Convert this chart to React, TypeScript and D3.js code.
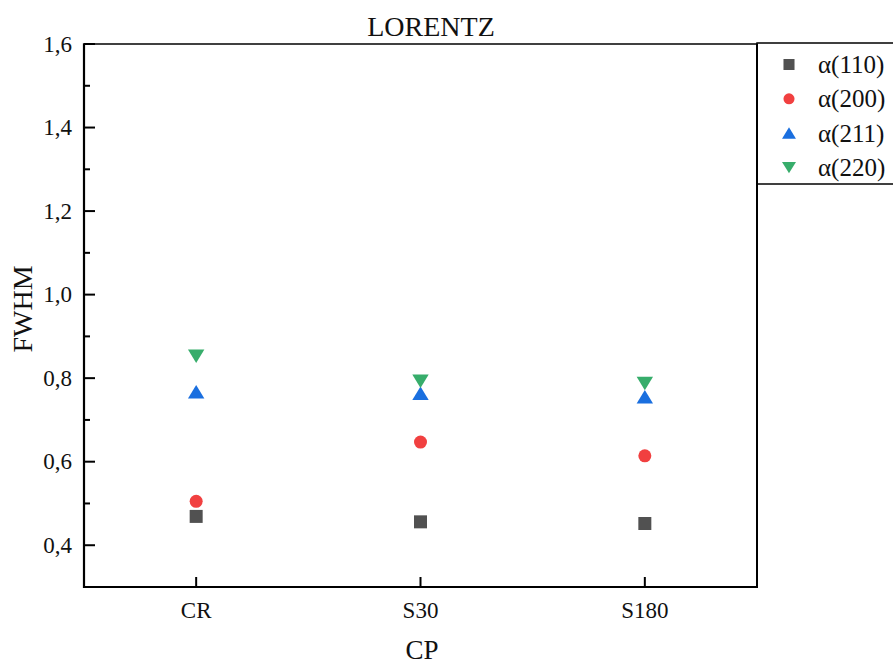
import React from "react";
import * as d3 from "d3";

const categories = ["CR", "S30", "S180"];
const seriesNames = ["α(110)", "α(200)", "α(211)", "α(220)"];
const a110 = [0.469, 0.456, 0.452];
const a200 = [0.505, 0.647, 0.614];
const a211 = [0.767, 0.763, 0.755];
const a220 = [0.853, 0.793, 0.788];
const yTicks = [0.4, 0.6, 0.8, 1.0, 1.2, 1.4, 1.6];
const yMinor = [0.5, 0.7, 0.9, 1.1, 1.3, 1.5];
const colors = ["#515151", "#F14040", "#1A6FDF", "#37AD6B"];
const shapes = ["square", "circle", "up", "down"];

const W = 893, H = 664;
const L = 84, R = 757, T = 44, B = 587;
const FONT = "'Liberation Serif', 'Times New Roman', serif";

function markerPath(shape: string) {
  const p = d3.path();
  if (shape === "square") {
    p.rect(-6.5, -6.5, 13, 13);
  } else if (shape === "circle") {
    p.arc(0, 0, 6.5, 0, Math.PI * 2);
  } else if (shape === "up") {
    p.moveTo(0, -7); p.lineTo(8.2, 6.5); p.lineTo(-8.2, 6.5); p.closePath();
  } else {
    p.moveTo(0, 7); p.lineTo(8.2, -6.5); p.lineTo(-8.2, -6.5); p.closePath();
  }
  return p.toString();
}

export default function App() {
  const x = d3.scaleLinear().domain([0.5, 3.5]).range([L, R]);
  const y = d3.scaleLinear().domain([0.3, 1.6]).range([B, T]);
  const series = [a110, a200, a211, a220];
  const fmt = (v: number) => v.toFixed(1).replace(".", ",");

  return (
    <div style={{ position: "absolute", left: 0, top: 0 }}>
      <svg width={W} height={H} style={{ display: "block", background: "#fff" }}>
        {/* title */}
        <text x={431} y={26} textAnchor="middle" dominantBaseline="central" fontFamily={FONT} fontSize={28} fill="#111">LORENTZ</text>

        {/* y ticks */}
        {yTicks.map((t) => (
          <g key={"y" + t}>
            <line x1={L} x2={L + 11} y1={y(t)} y2={y(t)} stroke="#000" strokeWidth={2} />
            <text x={72} y={y(t)} textAnchor="end" dominantBaseline="central" fontFamily={FONT} fontSize={23} fill="#111">{fmt(t)}</text>
          </g>
        ))}
        {yMinor.map((t) => (
          <line key={"m" + t} x1={L} x2={L + 6} y1={y(t)} y2={y(t)} stroke="#000" strokeWidth={2} />
        ))}
        {/* x ticks */}
        {categories.map((c, i) => (
          <g key={c}>
            <line x1={x(i + 1)} x2={x(i + 1)} y1={B} y2={B - 10} stroke="#000" strokeWidth={2} />
            <text x={x(i + 1)} y={610} textAnchor="middle" dominantBaseline="central" fontFamily={FONT} fontSize={23} fill="#111">{c}</text>
          </g>
        ))}

        {/* frame */}
        <line x1={L} x2={R} y1={T} y2={T} stroke="#000" strokeWidth={1.6} />
        <line x1={R} x2={R} y1={T} y2={B} stroke="#000" strokeWidth={2} />
        <line x1={L} x2={L} y1={T - 0.8} y2={B + 1} stroke="#000" strokeWidth={2.2} />
        <line x1={L - 1} x2={R + 1} y1={B} y2={B} stroke="#000" strokeWidth={2.2} />

        {/* axis labels */}
        <text x={422} y={650} textAnchor="middle" dominantBaseline="central" fontFamily={FONT} fontSize={27} fill="#111">CP</text>
        <text transform={`translate(22,${309}) rotate(-90)`} textAnchor="middle" dominantBaseline="central" fontFamily={FONT} fontSize={28} fill="#111">FWHM</text>

        {/* points */}
        {series.map((vals, si) =>
          vals.map((v, i) => (
            <path key={si + "-" + i} d={markerPath(shapes[si])} transform={`translate(${x(i + 1)},${y(v)})`} fill={colors[si]} />
          ))
        )}

        {/* legend */}
        <rect x={R} y={43} width={W - R + 5} height={141} fill="#fff" stroke="#000" strokeWidth={1.5} />
        <line x1={R} x2={R} y1={T} y2={185} stroke="#000" strokeWidth={2} />
        {seriesNames.map((n, i) => {
          const cy = 64.5 + i * 34.3;
          return (
            <g key={n}>
              <path d={markerPath(shapes[i])} transform={`translate(789,${cy}) scale(0.85)`} fill={colors[i]} />
              <text x={818} y={cy} dominantBaseline="central" fontFamily={FONT} fontSize={25} fill="#111">{n}</text>
            </g>
          );
        })}
      </svg>
    </div>
  );
}
